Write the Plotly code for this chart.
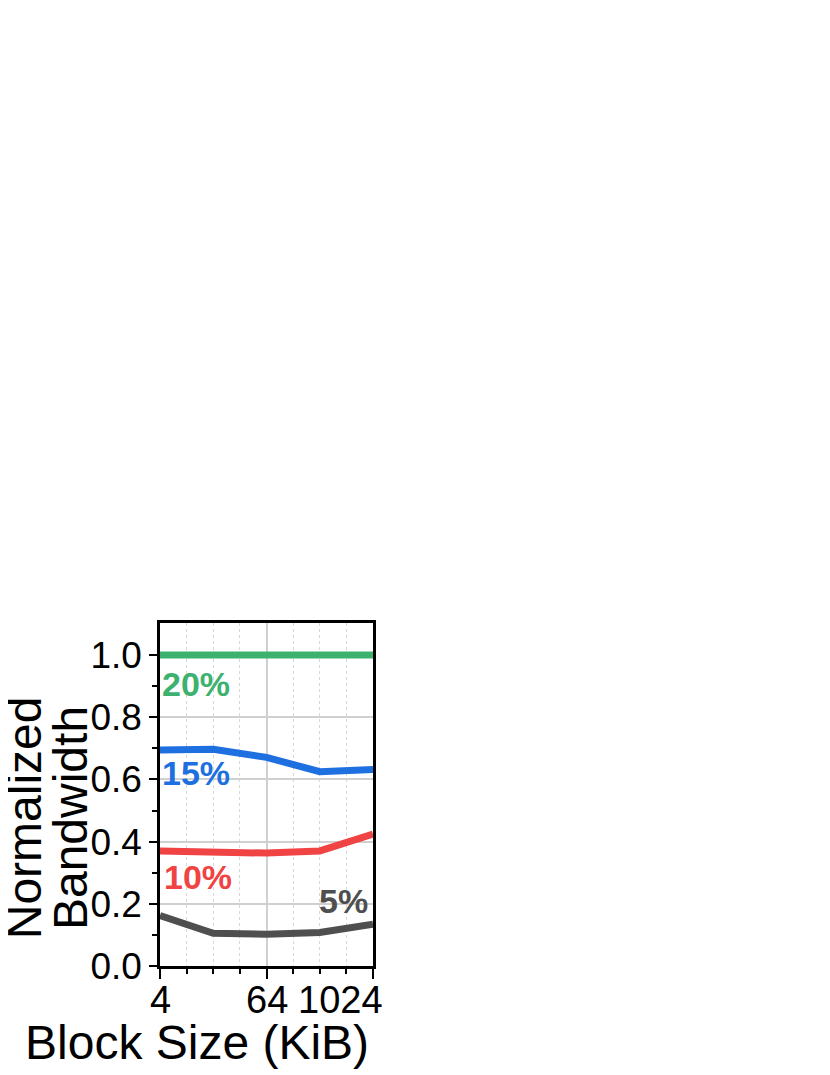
import math
import plotly.graph_objects as go

block_sizes = [4, 16, 64, 256, 1024]
tick_sizes = [4, 64, 1024]
tick_labels = ["4", "64", "1024"]
bw_20 = [1.0, 1.0, 1.0, 1.0, 1.0]
bw_15 = [0.695, 0.697, 0.671, 0.625, 0.632]
bw_10 = [0.370, 0.366, 0.363, 0.370, 0.424]
bw_5 = [0.162, 0.105, 0.102, 0.108, 0.134]

series = [
    ("20%", bw_20, "#3cb26e"),
    ("15%", bw_15, "#1e6fe0"),
    ("10%", bw_10, "#f04343"),
    ("5%", bw_5, "#4f4f4f"),
]

fig = go.Figure()
for name, vals, color in series:
    fig.add_trace(go.Scatter(
        x=block_sizes, y=vals, mode="lines", name=name,
        line=dict(color=color, width=7),
    ))

font = "Liberation Sans, Arial, sans-serif"

# in-plot labels for each series
labels = [
    ("20%", 4, 0.907, "left", 0, "#3cb26e"),
    ("15%", 4, 0.62, "left", 0, "#1e6fe0"),
    ("10%", 4, 0.286, "left", 2, "#f04343"),
    ("5%", 1024, 0.209, "right", -3, "#4f4f4f"),
]
for text, x, y, anchor, shift, color in labels:
    fig.add_annotation(
        x=math.log10(x), y=y, text="<b>%s</b>" % text, showarrow=False,
        xanchor=anchor, yanchor="middle", xshift=shift,
        font=dict(family=font, size=34, color=color),
    )

# x tick labels drawn by hand (1024 sits left of its tick in the original)
for val, txt in zip(tick_sizes, tick_labels):
    anchor = "right" if val == 1024 else "center"
    fig.add_annotation(
        x=math.log10(val), y=-0.1, xref="x", yref="paper", text=txt,
        showarrow=False, xanchor=anchor, yanchor="middle",
        xshift=12 if val == 1024 else 0,
        font=dict(family=font, size=38, color="black"),
    )

fig.add_annotation(
    x=0.174, y=-0.222, xref="paper", yref="paper", text="Block Size (KiB)",
    showarrow=False, xanchor="center", yanchor="middle",
    font=dict(family=font, size=48, color="black"),
)
for txt, xp in [("Normalized", -0.638), ("Bandwidth", -0.423)]:
    fig.add_annotation(
        x=xp, y=0.431, xref="paper", yref="paper", text=txt,
        showarrow=False, xanchor="center", yanchor="middle", textangle=-90,
        font=dict(family=font, size=48, color="black"),
    )

fig.update_layout(
    width=830, height=1075,
    margin=dict(l=152, r=465, t=615, b=117),
    paper_bgcolor="white", plot_bgcolor="white",
    showlegend=False,
    font=dict(family=font, color="black"),
    xaxis=dict(
        type="log", range=[math.log10(4), math.log10(1024)],
        tickvals=tick_sizes, ticktext=["", "", ""],
        ticks="outside", ticklen=10, tickwidth=2, tickcolor="black",
        showline=True, linecolor="black", linewidth=2.5, mirror=True,
        showgrid=True, gridcolor="#d0d0d0", gridwidth=1.5,
        minor=dict(tickvals=[8, 16, 32, 128, 256, 512], ticks="outside",
                   ticklen=5, tickwidth=2, tickcolor="black",
                   showgrid=True, gridcolor="#d8d8d8", griddash="dot", gridwidth=1),
        zeroline=False,
    ),
    yaxis=dict(
        range=[0, 1.103], tickvals=[0, 0.2, 0.4, 0.6, 0.8, 1.0],
        ticktext=["0.0", "0.2", "0.4", "0.6", "0.8", "1.0"],
        tickfont=dict(size=37),
        ticks="outside", ticklen=8, tickwidth=2, tickcolor="black",
        showline=True, linecolor="black", linewidth=2.5, mirror=True,
        showgrid=True, gridcolor="#d0d0d0", gridwidth=1.5,
        minor=dict(tickvals=[0.1, 0.3, 0.5, 0.7, 0.9], ticks="outside",
                   ticklen=5, tickwidth=2, tickcolor="black", showgrid=False),
        zeroline=False,
    ),
)

fig.write_html("out.html")
